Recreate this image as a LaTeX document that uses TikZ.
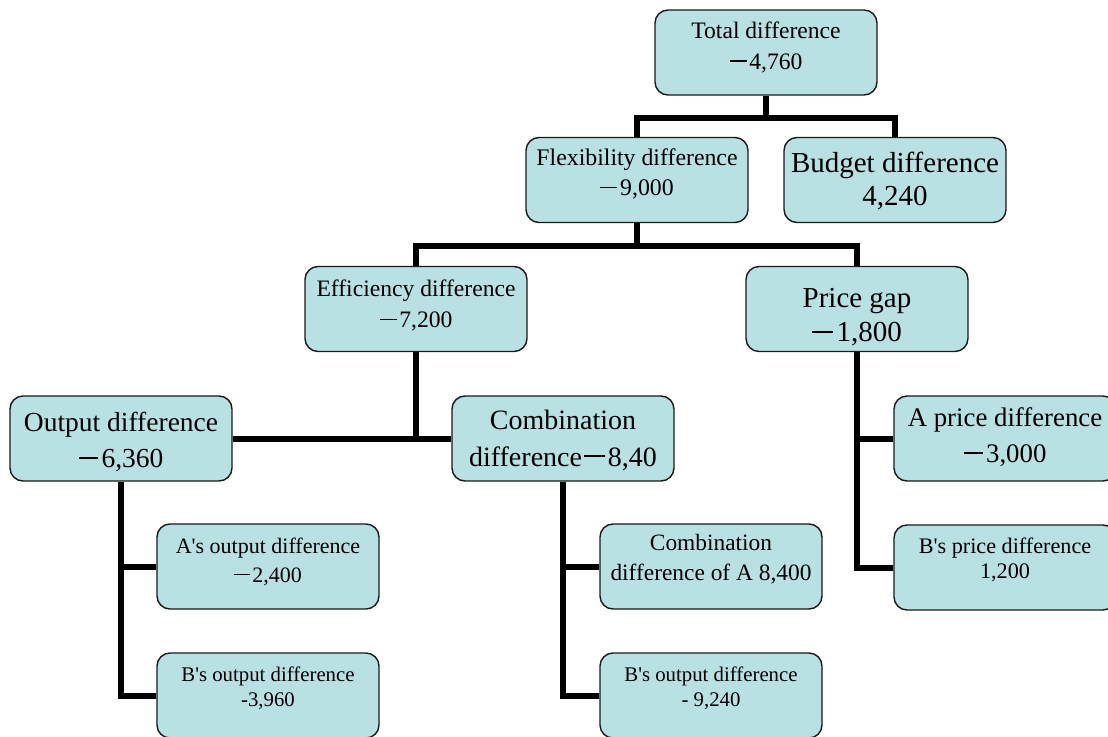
\documentclass[tikz,border=0pt]{standalone}
\usepackage{fontspec}
\setmainfont{Liberation Serif}
\usetikzlibrary{backgrounds}
\definecolor{boxfill}{RGB}{185,224,227}
\newcommand{\mn}{\kern0.05em\rule[0.32em]{0.72em}{0.065em}\kern0.12em}
\newcommand{\bt}[5]{\parbox[c][85pt][t]{222pt}{\centering\fontsize{#1}{#2}\selectfont\rule{0pt}{#3pt}#4\\#5}}
\tikzset{
  box/.style={draw=black!90, line width=1.4pt, fill=boxfill, rounded corners=13pt,
    inner sep=0pt, minimum width=222pt, minimum height=85pt},
  conn/.style={line width=6pt, draw=black}
}
\begin{document}
\begin{tikzpicture}[x=1pt, y=-1pt]
\useasboundingbox (0,0) rectangle (1108,736);
\node[box] (total) at (766,52.5) {\bt{23.6}{30}{28}{Total difference}{\mn4,760}};
\node[box] (flex) at (637,180) {\bt{23.8}{29}{28}{Flexibility difference}{\mn9,000}};
\node[box] (budget) at (895,180) {\bt{29}{33}{35}{Budget difference}{4,240}};
\node[box] (eff) at (416,309) {\bt{23.6}{30}{30}{Efficiency difference}{\mn7,200}};
\node[box] (price) at (857,309) {\bt{29}{33}{41}{Price gap}{\mn1,800}};
\node[box] (out) at (121,438.5) {\bt{27.5}{35}{35}{Output difference}{\mn6,360}};
\node[box] (comb) at (563,438.5) {\bt{28}{37}{33}{Combination}{difference\kern1pt\mn8,40}};
\node[box] (aprice) at (1005,438.5) {\bt{26.8}{35}{30}{A price difference}{\mn3,000}};
\node[box] (bprice) at (1005,567.5) {\bt{22.2}{25}{28}{B\textquotesingle s price difference}{1,200}};
\node[box] (aout) at (268,566.5) {\bt{22}{28}{29}{A\textquotesingle s output difference}{\mn2,400}};
\node[box] (bout) at (268,695.5) {\bt{20.8}{25}{28}{B\textquotesingle s output difference}{-3,960}};
\node[box] (comba) at (711,566.5) {\bt{23.4}{30}{26}{Combination}{difference of A 8,400}};
\node[box] (bout2) at (711,695.5) {\bt{20.8}{25}{28}{B\textquotesingle s output difference}{- 9,240}};
\begin{pgfonlayer}{background}
\coordinate (j1) at (766,118);
\coordinate (j2) at (637,246);
\draw[conn] (total.south) -- (j1);
\draw[conn] (flex.north) -- (flex.north |- j1) -- (budget.north |- j1) -- (budget.north);
\draw[conn] (flex.south) -- (j2);
\draw[conn] (eff.north) -- (eff.north |- j2) -- (price.north |- j2) -- (price.north);
\draw[conn] (out.east) -- (comb.west);
\draw[conn] (eff.south) -- (eff.south |- out.east);
\draw[conn] (out.south) |- (bout.west);
\draw[conn] (aout.west) -- (aout.west -| out.south);
\draw[conn] (comb.south) |- (bout2.west);
\draw[conn] (comba.west) -- (comba.west -| comb.south);
\draw[conn] (price.south) |- (bprice.west);
\draw[conn] (aprice.west) -- (aprice.west -| price.south);
\end{pgfonlayer}
\end{tikzpicture}
\end{document}
